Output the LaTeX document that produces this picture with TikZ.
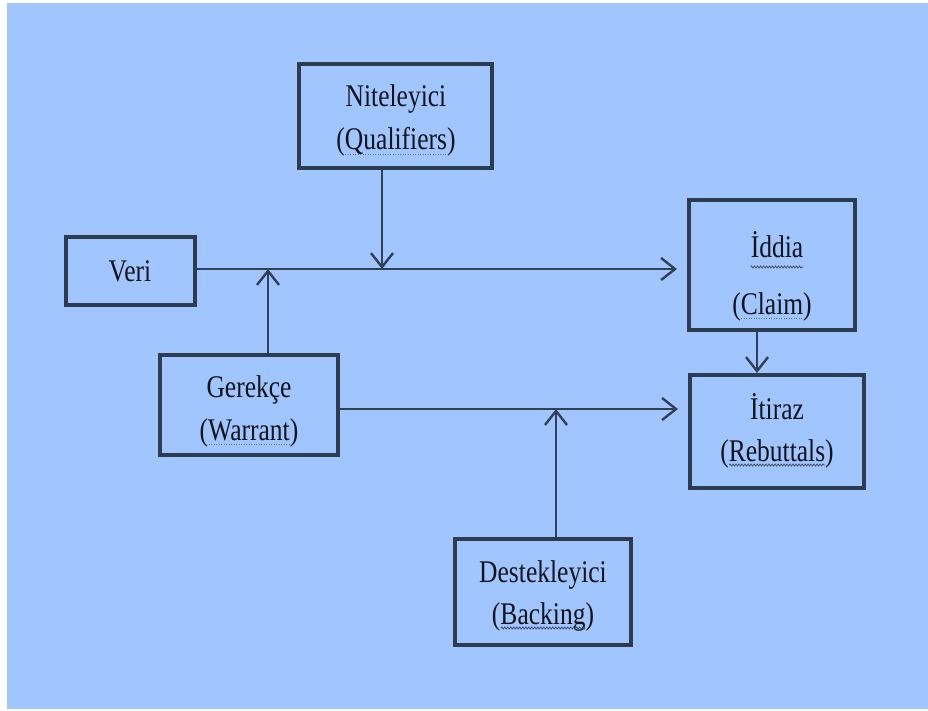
\documentclass[tikz,border=0pt]{standalone}
\usepackage{fontspec}
\setmainfont{Liberation Serif}[FakeStretch=0.81]
\usetikzlibrary{arrows.meta,decorations.pathmorphing}
\definecolor{bgblue}{RGB}{160,197,255}
\definecolor{edge}{RGB}{46,60,80}
\definecolor{wire}{RGB}{50,64,86}
\definecolor{ink}{RGB}{18,20,26}
\definecolor{squig}{RGB}{70,80,100}
\begin{document}
\begin{tikzpicture}[x=1pt,y=-1pt,
  box/.style={draw=edge,line width=4pt,inner sep=0pt,fill=none},
  label/.style={anchor=base,inner sep=0pt,text=ink,font=\fontsize{31.5}{36}\selectfont},
  wirearrow/.style={draw=wire,line width=2.4pt,-{Straight Barb[length=14pt,width=22pt,line width=2.4pt]}},
  wavy/.style={draw=squig,line width=0.8pt,decorate,decoration={snake,amplitude=1pt,segment length=3pt}},
  dots/.style={draw=squig!70!bgblue,line width=0.8pt,dash pattern=on 1pt off 1.5pt}]
\useasboundingbox (0,0) rectangle (928,711);
\fill[white] (0,0) rectangle (928,711);
\fill[bgblue] (7,3) rectangle (928,709);

% boxes
\node[box,minimum width=193pt,minimum height=104pt] (nit)  at (395.5,116) {};
\node[box,minimum width=129pt,minimum height=68pt]  (veri) at (130.5,271) {};
\node[box,minimum width=166pt,minimum height=130pt] (idd)  at (772,265) {};
\node[box,minimum width=174pt,minimum height=113pt] (itr)  at (777,431.5) {};
\node[box,minimum width=178pt,minimum height=100pt] (ger)  at (249,405) {};
\node[box,minimum width=176pt,minimum height=106pt] (des)  at (543,592) {};

% labels
\node[label] (nitA) at (396,107) {Niteleyici};
\node[label] (nitB) at (396,150) {(Qualifiers)};
\node[label] (veriA) at (130,281) {Veri};
\node[label] (iddA) at (777,258) {İddia};
\node[label] (iddB) at (772,314) {(Claim)};
\node[label] (itrA) at (777,419) {İtiraz};
\node[label] (itrB) at (777,461) {(Rebuttals)};
\node[label] (gerA) at (249,397) {Gerekçe};
\node[label] (gerB) at (249,440) {(Warrant)};
\node[label] (desA) at (543,582) {Destekleyici};
\node[label] (desB) at (543,624) {(Backing)};

% proofing marks under words
\draw[wavy] ([yshift=-9pt]iddA.base west) -- ([yshift=-9pt]iddA.base east);
\draw[dots] ([xshift=9pt,yshift=-4pt]iddB.base west) -- ([xshift=-9pt,yshift=-4pt]iddB.base east);
\draw[dots] ([xshift=9pt,yshift=-4pt]nitB.base west) -- ([xshift=-9pt,yshift=-4pt]nitB.base east);
\draw[dots] ([xshift=9pt,yshift=-4pt]gerB.base west) -- ([xshift=-9pt,yshift=-4pt]gerB.base east);
\draw[wavy] ([xshift=9pt,yshift=-4pt]desB.base west) -- ([xshift=-9pt,yshift=-4pt]desB.base east);
\draw[wavy] ([xshift=9pt,yshift=-4pt]itrB.base west) -- ([xshift=-9pt,yshift=-4pt]itrB.base east);

% junction points on the two main lines
\coordinate (q) at (382,269);
\coordinate (w) at (268,269);
\coordinate (b) at (556,409);
\coordinate (c) at (757,300);

% connectors
\draw[wirearrow,shorten >=10pt] (veri.east |- q) -- (idd.west |- q);
\draw[wirearrow] (q |- nit.south) -- (q);
\draw[wirearrow] (w |- ger.north) -- (w);
\draw[wirearrow,shorten >=10pt] (ger.east |- b) -- (itr.west |- b);
\draw[wirearrow] (b |- des.north) -- (b);
\draw[wirearrow] (c |- idd.south) -- (c |- itr.north);
\end{tikzpicture}
\end{document}
